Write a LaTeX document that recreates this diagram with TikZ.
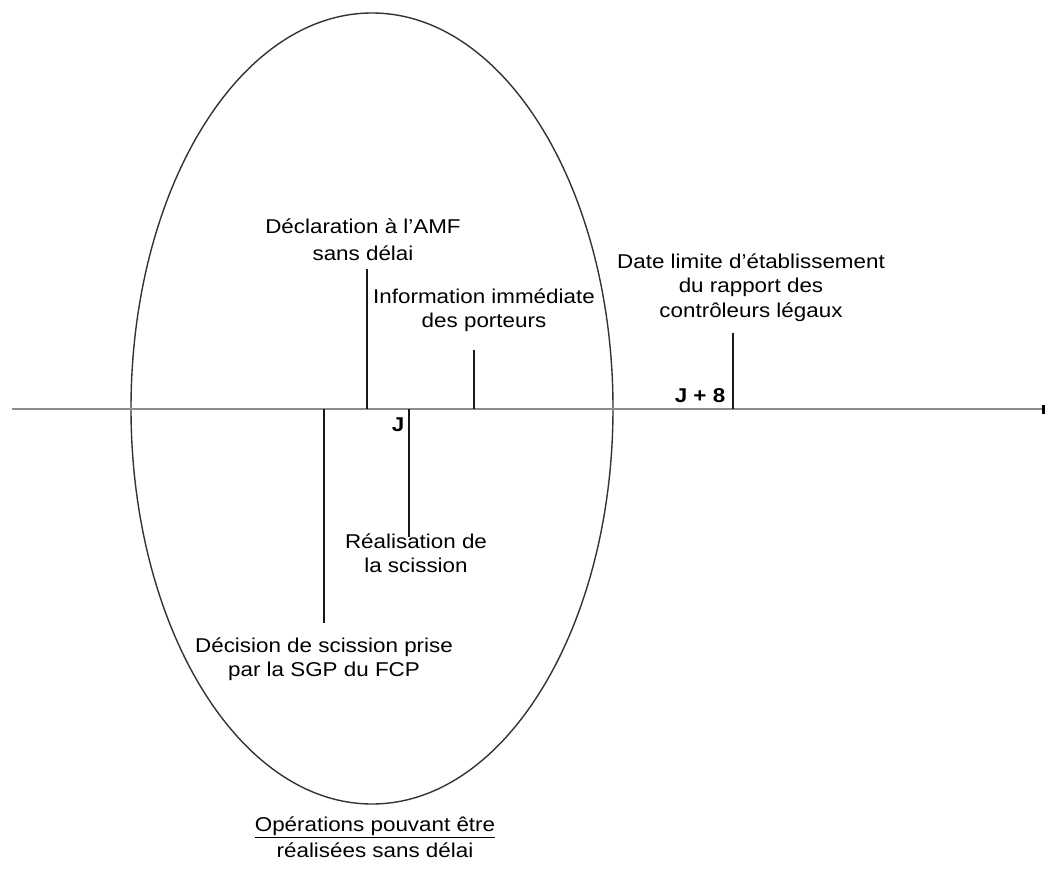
\documentclass[tikz,border=0pt]{standalone}
\usepackage{fontspec}
\setmainfont{Liberation Sans}[FakeStretch=1.12]
\usetikzlibrary{arrows.meta}
\begin{document}
\begin{tikzpicture}[x=1pt,y=-1pt,
  lbl/.style={inner sep=0pt, anchor=north, align=center, text=black,
    font=\fontsize{20}{24.5}\selectfont},
  blbl/.style={inner sep=0pt, anchor=north, text=black,
    font=\fontsize{20}{24.5}\selectfont\bfseries},
  tick/.style={draw=black!90, line width=1.6pt},
  axisline/.style={draw=black!45, line width=2pt, -{Rectangle[length=3pt,width=9pt,black]}}
]
\useasboundingbox (0,0) rectangle (1045,870);
% ellipse
\draw[black!80, line width=1.4pt] (372,408.5) ellipse [x radius=241, y radius=395.5];
% axis
\coordinate (axstart) at (12,409);
\coordinate (axend) at (1045,409);
\draw[axisline] (axstart) -- (axend);
% axis points
\coordinate (pdecl) at (367,409);
\coordinate (pinfo) at (474,409);
\coordinate (pj8) at (733,409);
\coordinate (pdec) at (324,409);
\coordinate (preal) at (409,409);
% tick ends
\coordinate (tdecl) at (367,269);
\coordinate (tinfo) at (474,350);
\coordinate (tj8) at (733,333);
\coordinate (tdec) at (324,623);
\coordinate (treal) at (409,537);
% labels
\node[lbl, font=\fontsize{20}{27}\selectfont] (decl) at (363,218.5) {Déclaration à l’AMF\\sans délai};
\node[lbl] (info) at (484,288.5) {Information immédiate\\des porteurs};
\node[lbl] (date) at (751,253.5) {Date limite d’établissement\\du rapport des\\contrôleurs légaux};
\node[lbl] (real) at (416,533.5) {Réalisation de\\la scission};
\node[lbl] (dec) at (324,637.5) {Décision de scission prise\\par la SGP du FCP};
\node[lbl, font=\fontsize{20}{26}\selectfont] (ops) at (375,817) {\underline{Opérations pouvant être}\\réalisées sans délai};
\node[blbl] (j) at (398,418) {J};
\node[blbl] (j8) at (700,388) {J + 8};
% ticks
\draw[tick] (pdecl) -- (tdecl);
\draw[tick] (pinfo) -- (tinfo);
\draw[tick] (pj8) -- (tj8);
\draw[tick] (pdec) -- (tdec);
\draw[tick] (preal) -- (treal);
\end{tikzpicture}
\end{document}
